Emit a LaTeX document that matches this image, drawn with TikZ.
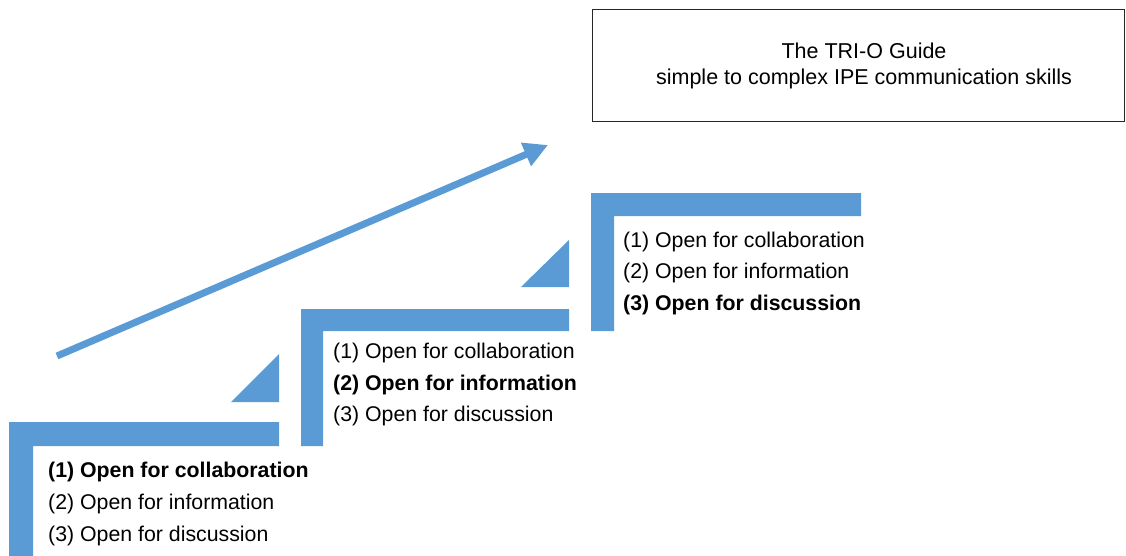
\documentclass[tikz,border=0pt]{standalone}
\usepackage{fontspec}
\setmainfont{Liberation Sans}
\usetikzlibrary{arrows.meta}
\definecolor{stepblue}{HTML}{5B9BD5}
\begin{document}
\begin{tikzpicture}[x=1pt,y=-1pt,
  stepshape/.style={fill=stepblue,draw=none},
  txt/.style={anchor=base west,inner sep=0pt,font=\fontsize{21.3}{25}\selectfont},
  btxt/.style={txt,font=\fontsize{21.3}{25}\selectfont\bfseries}]
\useasboundingbox (0,0) rectangle (1126,556);
% steps
\fill[stepshape] (9,422) -- (279,422) -- (279,446) -- (33,446) -- (33,556) -- (9,556) -- cycle;
\fill[stepshape] (301,309) -- (569,309) -- (569,331) -- (323,331) -- (323,446) -- (301,446) -- cycle;
\fill[stepshape] (591,193) -- (861,193) -- (861,216) -- (614,216) -- (614,331) -- (591,331) -- cycle;
\fill[stepshape] (231,402) -- (279,354) -- (279,402) -- cycle;
\fill[stepshape] (521,287) -- (569,240) -- (569,287) -- cycle;
% texts step 1
\node[btxt] (s1a) at (48,477.5) {(1) Open for collaboration};
\node[txt] (s1b) at (48,509.5) {(2) Open for information};
\node[txt] (s1c) at (48,541.5) {(3) Open for discussion};
% step 2
\node[txt] (s2a) at (333,358.5) {(1) Open for collaboration};
\node[btxt] (s2b) at (333,390.5) {(2) Open for information};
\node[txt] (s2c) at (333,421.5) {(3) Open for discussion};
% step 3
\node[txt] (s3a) at (623,247.5) {(1) Open for collaboration};
\node[txt] (s3b) at (623,278.5) {(2) Open for information};
\node[btxt] (s3c) at (623,310.5) {(3) Open for discussion};
% title box
\draw[line width=1pt,draw=black!85] (592,10) rectangle (1124,122);
\node[inner sep=0pt,font=\fontsize{21.5}{25.5}\selectfont,align=center] (title) at (864,66)
  {The TRI-O Guide\\simple to complex IPE communication skills};
% arrow
\coordinate (a0) at (57,356);
\coordinate (a1) at (548,145);
\draw[stepblue,line width=7pt,-{Triangle[length=24pt,width=24pt]}] (a0) -- (a1);
\end{tikzpicture}
\end{document}
